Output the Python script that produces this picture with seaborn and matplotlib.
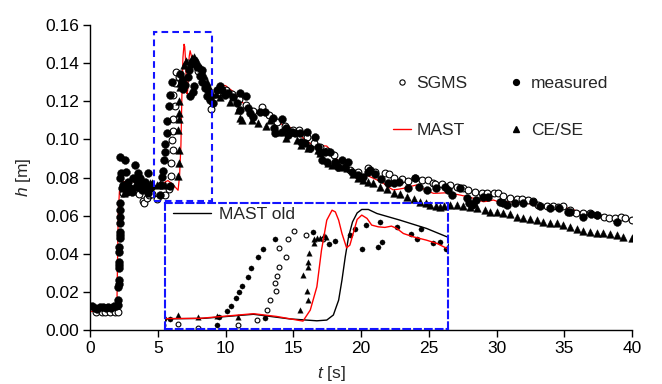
import matplotlib
matplotlib.use("Agg")
import matplotlib.pyplot as plt
import seaborn as sns
import pandas as pd
from matplotlib.lines import Line2D
from matplotlib.patches import Rectangle

# ---------------- data ----------------
meas_t = [0.15, 0.35, 0.55, 0.75, 0.95, 1.15, 1.35, 1.55, 1.75, 1.95,
          2.08, 2.09, 2.10, 2.11, 2.12, 2.13, 2.14, 2.15, 2.16, 2.17, 2.18, 2.19, 2.20, 2.21, 2.22, 2.23, 2.24,
          2.21, 2.28, 2.25, 2.35, 2.45, 2.58, 2.62, 2.66, 2.75, 2.83, 2.95, 3.07, 3.15, 3.32, 3.38, 3.50,
          3.57, 3.69, 3.75, 3.85, 3.95, 4.06, 4.18, 4.25, 4.31, 4.40,
          4.49, 5.20, 5.23, 5.35, 5.41, 5.49, 5.53, 5.57, 5.66, 5.71, 5.82, 5.90, 6.08, 5.92, 6.65, 6.90,
          6.99, 7.21, 7.29, 7.40, 7.45, 7.63, 7.66, 7.70, 7.93, 8.14, 8.23, 8.29, 8.47, 8.58, 8.67,
          8.73, 8.86, 9.10, 9.35, 9.60, 9.72, 9.96, 10.20, 10.58, 10.82, 11.07, 11.10, 11.50, 11.68, 11.80,
          12.05, 12.55, 12.90, 13.53, 14.15, 13.55, 13.65, 14.17, 14.50, 14.60, 14.90, 15.10, 15.50, 16.00,
          16.60, 15.60, 15.87, 16.24, 16.80, 16.97, 17.34, 17.70, 17.10, 17.47, 18.08, 18.57, 19.06, 18.33,
          18.82, 19.30, 19.80, 20.17, 20.50,
          20.66, 21.00, 21.50, 22.00, 22.40, 22.80, 23.50, 24.00, 24.30, 24.85, 25.50, 26.20, 26.40, 26.70,
          27.30, 27.80, 28.00, 28.20, 28.30, 28.50, 29.00, 29.40, 30.26, 30.50, 30.75, 31.40, 31.97, 32.70,
          33.20, 33.95, 34.60, 35.30, 35.40, 36.40, 37.00, 37.40, 38.87]
meas_h = [0.0125, 0.0118, 0.0112, 0.0122, 0.0120, 0.0115, 0.0122, 0.0118, 0.0124, 0.0128,
          0.0131, 0.0160, 0.0227, 0.0240, 0.0262, 0.0324, 0.0340, 0.0359, 0.0411, 0.0437, 0.0481, 0.0500,
          0.0516, 0.0560, 0.0595, 0.0630, 0.0665,
          0.0909, 0.0822, 0.0796, 0.0745, 0.0760, 0.0892, 0.0830, 0.0760, 0.0726, 0.0778, 0.0745, 0.0726,
          0.0800, 0.0866, 0.0752, 0.0780, 0.0822, 0.0796, 0.0760, 0.0735, 0.0760, 0.0778, 0.0752, 0.0822,
          0.0717, 0.0745,
          0.0749, 0.0706, 0.0763, 0.0802, 0.0835, 0.0890, 0.0935, 0.0977, 0.1035, 0.1099, 0.1175, 0.1232,
          0.1301, 0.0754, 0.1345, 0.1262, 0.1287, 0.1326, 0.1366, 0.1230, 0.1398, 0.1246, 0.1414, 0.1280,
          0.1380, 0.1334, 0.1299, 0.1366, 0.1269, 0.1280, 0.1228,
          0.1260, 0.1207, 0.1190, 0.1260, 0.1280, 0.1260, 0.1233, 0.1242, 0.1224, 0.1190, 0.1242, 0.1154,
          0.1228, 0.1163, 0.1137, 0.1120, 0.1145, 0.1145, 0.1110, 0.1105, 0.1058, 0.1032, 0.1040, 0.1058,
          0.1023, 0.1040, 0.1032, 0.1032, 0.1040, 0.1014, 0.0988, 0.0980, 0.0953, 0.0960, 0.0936, 0.0936,
          0.0936, 0.0892, 0.0883, 0.0883, 0.0892, 0.0883, 0.0857, 0.0857, 0.0831, 0.0813, 0.0804, 0.0831,
          0.0839, 0.0820, 0.0790, 0.0770, 0.0770, 0.0778, 0.0743, 0.0796, 0.0752, 0.0735, 0.0745, 0.0752,
          0.0735, 0.0708, 0.0743, 0.0691, 0.0665, 0.0656, 0.0660, 0.0682, 0.0700, 0.0700, 0.0673, 0.0665,
          0.0656, 0.0665, 0.0665, 0.0673, 0.0650, 0.0638, 0.0640, 0.0621, 0.0621, 0.0595, 0.0610, 0.0603,
          0.0568]

sgms_t = [0.44, 0.86, 1.10, 1.48, 1.84, 2.05,
          2.40, 2.70, 3.00, 3.30, 3.60, 3.94, 3.98, 4.20, 4.38,
          4.61, 4.91, 5.52, 5.80, 5.96, 6.00, 6.09, 6.07, 6.11, 6.13, 6.14, 6.24, 6.27, 6.36, 6.54,
          6.80, 7.20, 7.60, 8.00, 8.40, 8.80, 8.95,
          9.50, 10.00, 10.50, 11.00, 11.50, 12.00, 12.70, 13.20, 13.80, 14.40, 15.00, 15.40, 16.00, 16.50,
          17.00, 17.50, 18.00, 18.60, 19.20, 19.80, 20.50,
          21.00, 21.77, 22.10, 22.40, 23.00, 23.50, 24.00, 24.50, 24.97, 25.30, 25.46, 26.00, 26.57, 27.06,
          27.50, 27.90, 28.40, 28.90, 29.27, 29.80, 30.10, 30.50, 31.00, 31.50, 31.86, 32.30, 32.70, 33.09,
          33.70, 34.20, 34.56, 34.93, 35.40, 35.90, 36.40, 36.90, 37.40, 37.90, 38.30, 38.75, 39.20, 39.50,
          40.00]
sgms_h = [0.0093, 0.0092, 0.0094, 0.0092, 0.0093, 0.0093,
          0.0720, 0.0730, 0.0740, 0.0730, 0.0715, 0.0678, 0.0665, 0.0690, 0.0708,
          0.0712, 0.0687, 0.0708, 0.0740, 0.0807, 0.0876, 0.0942, 0.0997, 0.1046, 0.1108, 0.1235, 0.1175,
          0.1297, 0.1352, 0.1329,
          0.1300, 0.1400, 0.1410, 0.1360, 0.1300, 0.1220, 0.1160,
          0.1250, 0.1260, 0.1240, 0.1210, 0.1180, 0.1150, 0.1170, 0.1130, 0.1090, 0.1070, 0.1050, 0.1050,
          0.1010, 0.0980, 0.0960, 0.0940, 0.0920, 0.0870, 0.0840, 0.0830, 0.0848,
          0.0830, 0.0822, 0.0818, 0.0800, 0.0790, 0.0780, 0.0795, 0.0785, 0.0787, 0.0770, 0.0766, 0.0765,
          0.0761, 0.0752, 0.0745, 0.0735, 0.0725, 0.0717, 0.0717, 0.0720, 0.0717, 0.0705, 0.0695, 0.0688,
          0.0686, 0.0684, 0.0675, 0.0656, 0.0650, 0.0648, 0.0647, 0.0650, 0.0630, 0.0615, 0.0612, 0.0612,
          0.0603, 0.0595, 0.0588, 0.0590, 0.0592, 0.0585, 0.0577]

cese_t = [2.50, 2.90, 3.30, 3.70, 4.10, 4.40,
          4.61, 4.91, 5.19, 5.52, 6.46, 6.50, 6.56, 6.57, 6.575, 6.58, 6.585, 6.66, 6.665, 6.71, 6.76, 6.82,
          6.85,
          6.96, 7.10, 7.50, 7.70, 8.00, 8.20, 8.44, 8.60, 8.80, 8.97, 9.30,
          9.60, 10.33, 10.95, 11.07, 11.20, 11.93, 12.42, 13.00, 13.28, 13.80, 14.50, 15.25, 15.60, 16.10,
          16.80, 16.97, 17.60, 17.84, 18.45, 18.94, 19.40, 19.80, 20.17, 20.50,
          20.90, 21.40, 21.90, 22.40, 22.90, 23.37, 23.90, 24.35, 24.80, 25.10, 25.50, 25.80, 26.10,
          26.57, 27.06, 27.55, 28.04, 28.54, 29.15, 29.52, 30.01, 30.50, 31.00, 31.49, 31.98, 32.47, 32.97,
          33.46, 33.95, 34.44, 34.93, 35.42, 35.92, 36.41, 36.90, 37.39, 37.88, 38.38, 38.87, 39.36, 39.98]
cese_h = [0.0717, 0.0740, 0.0755, 0.0762, 0.0768, 0.0770,
          0.0773, 0.0761, 0.0766, 0.0761, 0.0809, 0.1051, 0.0942, 0.0878, 0.1138, 0.1108, 0.1200, 0.1273,
          0.1297, 0.1306, 0.1306, 0.1331, 0.1315,
          0.1390, 0.1410, 0.1425, 0.1430, 0.1400, 0.1375, 0.1340, 0.1300, 0.1270, 0.1240, 0.1240,
          0.1224, 0.1198, 0.1154, 0.1110, 0.1102, 0.1102, 0.1084, 0.1070, 0.1102, 0.1040, 0.1006, 0.0997,
          0.0971, 0.0953, 0.0945, 0.0927, 0.0875, 0.0866, 0.0857, 0.0848, 0.0820, 0.0796, 0.0787, 0.0778,
          0.0770, 0.0752, 0.0740, 0.0717, 0.0712, 0.0699, 0.0685, 0.0673, 0.0668, 0.0656, 0.0652, 0.0644,
          0.0650,
          0.0656, 0.0656, 0.0651, 0.0647, 0.0638, 0.0630, 0.0621, 0.0621, 0.0612, 0.0607, 0.0595, 0.0586,
          0.0581, 0.0577, 0.0568, 0.0563, 0.0560, 0.0551, 0.0542, 0.0528, 0.0521, 0.0516, 0.0507, 0.0507,
          0.0502, 0.0498, 0.0490, 0.0481]

mast_t = [0.00, 1.98, 2.02, 2.08, 2.17, 2.30, 2.46, 2.80, 3.20, 3.44, 3.70, 4.00, 4.20, 4.41, 4.94, 5.40,
          5.75, 6.10, 6.50, 6.61, 6.71, 6.78, 6.86, 6.94, 6.99, 7.04, 7.09, 7.16, 7.21, 7.26, 7.32, 7.39,
          7.47, 7.54, 7.64, 7.74, 7.84, 7.92, 8.02, 8.17, 8.37, 8.53, 8.68, 8.90, 9.10, 9.35, 9.60, 10.00,
          10.58, 11.07, 11.56, 12.05, 12.55, 13.04, 13.41, 13.78, 14.02, 14.50, 15.00, 15.40, 15.74, 16.10,
          16.48, 16.90, 17.47, 17.80, 18.08, 18.50, 18.94, 19.30, 19.68, 19.93, 20.42, 20.66, 21.10, 21.65,
          22.00, 22.38, 22.70, 23.12, 23.60, 24.11, 24.40, 24.72, 25.34, 25.80, 26.32, 26.80, 27.31, 27.80,
          28.29, 29.03, 29.40, 29.76, 30.26, 30.75, 31.24, 31.70, 32.23, 32.70, 33.21, 33.80, 34.44, 34.90,
          35.42, 35.90, 36.41, 37.00, 37.64, 38.10, 38.62, 39.30, 40.00]
mast_h = [0.0097, 0.0097, 0.0300, 0.0600, 0.0726, 0.0765, 0.0778, 0.0780, 0.0778, 0.0772, 0.0752, 0.0756,
          0.0762, 0.0750, 0.0752, 0.0770, 0.0784, 0.0765, 0.0733, 0.0809, 0.0970, 0.1223, 0.1430, 0.1499,
          0.1487, 0.1430, 0.1338, 0.1239, 0.1258, 0.1338, 0.1435, 0.1465, 0.1442, 0.1396, 0.1384, 0.1380,
          0.1389, 0.1373, 0.1338, 0.1315, 0.1292, 0.1269, 0.1235, 0.1200, 0.1207, 0.1260, 0.1285, 0.1282,
          0.1250, 0.1207, 0.1172, 0.1137, 0.1145, 0.1128, 0.1111, 0.1084, 0.1084, 0.1068, 0.1058, 0.1040,
          0.1006, 0.0985, 0.0971, 0.0968, 0.0965, 0.0940, 0.0909, 0.0870, 0.0839, 0.0815, 0.0796, 0.0810,
          0.0813, 0.0804, 0.0790, 0.0770, 0.0750, 0.0735, 0.0738, 0.0743, 0.0752, 0.0761, 0.0750, 0.0735,
          0.0717, 0.0718, 0.0720, 0.0715, 0.0708, 0.0700, 0.0691, 0.0673, 0.0676, 0.0682, 0.0670, 0.0673,
          0.0673, 0.0672, 0.0668, 0.0655, 0.0644, 0.0643, 0.0644, 0.0641, 0.0638, 0.0625, 0.0612, 0.0603,
          0.0595, 0.0585, 0.0577, 0.0576, 0.0577]

mast_old_t = [4.41, 5.00, 5.75, 6.30, 6.71, 6.86, 6.96, 7.04, 7.09, 7.14, 7.19, 7.25, 7.32, 7.39, 7.49,
              7.62, 7.97, 8.37, 8.68]
mast_old_h = [0.0748, 0.0752, 0.0780, 0.0748, 0.0735, 0.0740, 0.0775, 0.0878, 0.1016, 0.1177, 0.1315,
              0.1418, 0.1480, 0.1504, 0.1504, 0.1476, 0.1430, 0.1373, 0.1315]

x_ticks = [0, 5, 10, 15, 20, 25, 30, 35, 40]
y_ticks = [0.00, 0.02, 0.04, 0.06, 0.08, 0.10, 0.12, 0.14, 0.16]
y_tick_labels = ["0.00", "0.02", "0.04", "0.06", "0.08", "0.10", "0.12", "0.14", "0.16"]

# zoom window (main data coords) and inset placement
zoom_box = (4.7, 0.0678, 9.0, 0.1563)
inset_xlim = (4.41, 8.70)
inset_ylim = (0.0678, 0.1547)
inset_place = (5.535, 0.0005, 26.44, 0.0665)
inset_tmax_models = 6.9

meas = pd.DataFrame({"t": meas_t, "h": meas_h})
sgms = pd.DataFrame({"t": sgms_t, "h": sgms_h})
cese = pd.DataFrame({"t": cese_t, "h": cese_h})
mast = pd.DataFrame({"t": mast_t, "h": mast_h})
mast_old = pd.DataFrame({"t": mast_old_t, "h": mast_old_h})

# ---------------- style ----------------
sns.set_style("ticks")
plt.rcParams["font.family"] = ["Liberation Sans", "DejaVu Sans"]
plt.rcParams["mathtext.fontset"] = "custom"
plt.rcParams["mathtext.it"] = "Liberation Sans:italic"
plt.rcParams["mathtext.rm"] = "Liberation Sans"
FS = 12.5
BLUE = "#1414ff"
DASH = (0, (3.2, 2.0))

fig = plt.figure(figsize=(6.62, 3.84), dpi=100)
ax = fig.add_axes([90 / 662, 1 - 330 / 384, (632 - 90) / 662, (330 - 25) / 384])

sns.lineplot(data=mast, x="t", y="h", color="red", lw=0.9, estimator=None, sort=False, ax=ax, zorder=2)
sns.scatterplot(data=sgms, x="t", y="h", marker="o", s=24, color="white", edgecolor="black",
                linewidth=0.8, ax=ax, zorder=3)
sns.scatterplot(data=cese, x="t", y="h", marker="^", s=30, color="black", edgecolor="black",
                linewidth=0.3, ax=ax, zorder=4)
sns.scatterplot(data=meas, x="t", y="h", marker="o", s=32, color="black", edgecolor="black",
                linewidth=0.3, ax=ax, zorder=5)

ax.set_xlim(0, 40)
ax.set_ylim(0, 0.16)
ax.set_xticks(x_ticks)
ax.set_yticks(y_ticks)
ax.set_yticklabels(y_tick_labels)
ax.tick_params(axis="both", labelsize=FS, length=5, width=1.0, direction="out", colors="black", pad=3)
for s in ["top", "right"]:
    ax.spines[s].set_visible(False)
for s in ["left", "bottom"]:
    ax.spines[s].set_linewidth(1.0)
    ax.spines[s].set_color("black")
ax.set_xlabel(r"$t$ [s]", fontsize=FS, x=0.446, labelpad=6)
ax.set_ylabel(r"$h$ [m]", fontsize=FS, labelpad=9)

# zoom box
ax.add_patch(Rectangle((zoom_box[0], zoom_box[1]), zoom_box[2] - zoom_box[0], zoom_box[3] - zoom_box[1],
                       fill=False, edgecolor=BLUE, lw=1.5, linestyle=DASH, zorder=6))

# main legend
handles = [
    Line2D([], [], marker="o", ls="none", mfc="white", mec="black", mew=0.8, ms=3.8),
    Line2D([], [], color="red", lw=1.0),
    Line2D([], [], marker="o", ls="none", mfc="black", mec="black", ms=4.2),
    Line2D([], [], marker="^", ls="none", mfc="black", mec="black", ms=4.2),
]
labels = ["SGMS", "MAST", "measured", "CE/SE"]
fig.legend(handles, labels, loc="upper left", bbox_to_anchor=(385.9 / 662, 1 - 68.5 / 384),
           ncol=2, frameon=False, fontsize=FS, handlelength=1.05, handletextpad=0.3,
           columnspacing=2.3, labelspacing=1.85, borderpad=0.4, borderaxespad=0)

# inset
x0, y0, x1, y1 = inset_place
axi = ax.inset_axes([x0, y0, x1 - x0, y1 - y0], transform=ax.transData, zorder=7)
axi.set_facecolor("none")
sns.lineplot(data=mast_old, x="t", y="h", color="black", lw=1.0, estimator=None, sort=False, ax=axi)
sns.lineplot(data=mast, x="t", y="h", color="red", lw=1.0, estimator=None, sort=False, ax=axi)
sns.scatterplot(data=sgms[sgms.t <= inset_tmax_models], x="t", y="h", marker="o", s=12, color="white",
                edgecolor="black", linewidth=0.8, ax=axi)
sns.scatterplot(data=cese[cese.t <= inset_tmax_models], x="t", y="h", marker="^", s=16, color="black",
                edgecolor="black", linewidth=0.2, ax=axi)
sns.scatterplot(data=meas, x="t", y="h", marker="o", s=14, color="black", edgecolor="black",
                linewidth=0.2, ax=axi)
axi.set_xlim(*inset_xlim)
axi.set_ylim(*inset_ylim)
axi.set_xticks([])
axi.set_yticks([])
axi.set_xlabel("")
axi.set_ylabel("")
for s in axi.spines.values():
    s.set_visible(True)
    s.set_color(BLUE)
    s.set_linewidth(1.5)
    s.set_linestyle(DASH)
fig.legend([Line2D([], [], color="black", lw=1.0)], ["MAST old"], loc="upper left",
           bbox_to_anchor=(166.2 / 662, 1 - 199.5 / 384), frameon=False, fontsize=FS,
           handlelength=2.16, handletextpad=0.5, borderpad=0.4, borderaxespad=0)

fig.savefig("out.png", dpi=100)
